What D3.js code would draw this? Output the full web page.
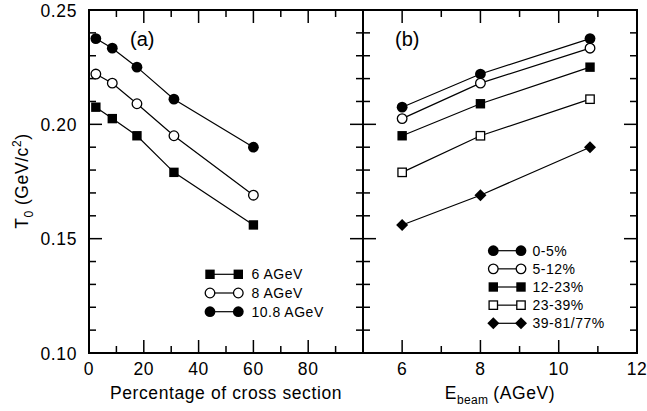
<!DOCTYPE html>
<html><head><meta charset="utf-8">
<script src="https://cdn.jsdelivr.net/npm/d3@7"></script>
<style>
html,body{margin:0;padding:0;background:#fff;}
svg text{font-family:"Liberation Sans",Arial,Helvetica,sans-serif;fill:#000;}
</style></head>
<body><svg id="c" width="647" height="411"></svg>
<script>
// ---- data ----
const centrality = [2.5, 8.5, 17.5, 31, 60];             // % of cross section (bin centres)
const centralityLabels = ["0-5%", "5-12%", "12-23%", "23-39%", "39-81/77%"];
const beamEnergies = [6, 8, 10.8];                       // AGeV
const energyLabels = ["6 AGeV", "8 AGeV", "10.8 AGeV"];
const t0_6AGeV   = [0.2075, 0.2025, 0.195, 0.179, 0.156];
const t0_8AGeV   = [0.222, 0.218, 0.209, 0.195, 0.169];
const t0_108AGeV = [0.2375, 0.2333, 0.225, 0.211, 0.190];
const yMajorTicks = [0.10, 0.15, 0.20, 0.25];
const xTicksA = [0, 20, 40, 60, 80];
const xTicksB = [6, 8, 10, 12];

(function () {
const svg = d3.select("#c");
const yTop = 10, yBot = 353;
const xa = d3.scaleLinear().domain([0, 100]).range([89, 363]);
const xb = d3.scaleLinear().domain([5, 12]).range([363, 637]);
const y = d3.scaleLinear().domain([0.10, 0.25]).range([yBot, yTop]);

const fs = 17.5, ls = 0.6;
const g = svg.append("g");

function line(x1, y1, x2, y2, w) {
  g.append("line").attr("x1", x1).attr("y1", y1).attr("x2", x2).attr("y2", y2)
    .attr("stroke", "#000").attr("stroke-width", w || 1.5);
}
// ---- ticks ----
const yMinor = d3.range(10, 26).map(d => d / 100);
yMinor.forEach(v => {
  const major = yMajorTicks.some(m => Math.abs(m - v) < 1e-9);
  const L = major ? 13 : 7;
  const yy = y(v);
  line(xa.range()[0], yy, xa.range()[0] + L, yy);
  line(363 - L, yy, 363 + L, yy);
  line(637 - L, yy, 637, yy);
});
d3.range(10, 100, 10).forEach(v => {
  const L = (v % 20 === 0) ? 13 : 7;
  line(xa(v), yBot, xa(v), yBot - L);
  line(xa(v), yTop, xa(v), yTop + L);
});
d3.range(6, 12, 1).forEach(v => {
  const L = (v % 2 === 0) ? 13 : 7;
  line(xb(v), yBot, xb(v), yBot - L);
  line(xb(v), yTop, xb(v), yTop + L);
});

// ---- frame ----
g.append("rect").attr("x", 89).attr("y", yTop).attr("width", 637 - 89).attr("height", yBot - yTop)
  .attr("fill", "none").attr("stroke", "#000").attr("stroke-width", 2);
line(363, yTop, 363, yBot, 2);

// ---- tick labels ----
yMajorTicks.forEach(v => {
  g.append("text").attr("x", 77).attr("y", y(v) + 6.5).attr("text-anchor", "end")
    .attr("font-size", fs).attr("letter-spacing", ls).text(v.toFixed(2));
});
xTicksA.forEach(v => {
  g.append("text").attr("x", xa(v)).attr("y", 374.5).attr("text-anchor", "middle")
    .attr("font-size", fs).attr("letter-spacing", ls).text(v);
});
xTicksB.forEach(v => {
  g.append("text").attr("x", xb(v)).attr("y", 374.5).attr("text-anchor", "middle")
    .attr("font-size", fs).attr("letter-spacing", ls).text(v);
});

// ---- axis titles ----
g.append("text").attr("x", 226).attr("y", 398.5).attr("text-anchor", "middle")
  .attr("font-size", fs).attr("letter-spacing", ls).text("Percentage of cross section");
const eb = g.append("text").attr("x", 500).attr("y", 398.5).attr("text-anchor", "middle")
  .attr("font-size", fs).attr("letter-spacing", ls);
eb.append("tspan").text("E");
eb.append("tspan").attr("font-size", 12).attr("dy", 5).attr("letter-spacing", 0.3).text("beam");
eb.append("tspan").attr("dy", -5).attr("dx", 5).text("(AGeV)");

const yt = g.append("text").attr("transform", "translate(28,181) rotate(-90)")
  .attr("text-anchor", "middle").attr("font-size", fs).attr("letter-spacing", ls);
yt.append("tspan").text("T");
yt.append("tspan").attr("font-size", 12).attr("dy", 5).text("0");
yt.append("tspan").attr("dy", -5).attr("dx", 5).text("(GeV/c");
yt.append("tspan").attr("font-size", 12).attr("dy", -7).text("2");
yt.append("tspan").attr("dy", 7).text(")");

g.append("text").attr("x", 130).attr("y", 46).attr("font-size", 20).text("(a)");
g.append("text").attr("x", 395).attr("y", 46).attr("font-size", 20).text("(b)");

// ---- markers ----
function marker(sel, type, cx, cy) {
  if (type === "fcircle") sel.append("circle").attr("cx", cx).attr("cy", cy).attr("r", 5.4).attr("fill", "#000");
  else if (type === "ocircle") sel.append("circle").attr("cx", cx).attr("cy", cy).attr("r", 4.8)
    .attr("fill", "#fff").attr("stroke", "#000").attr("stroke-width", 1.3);
  else if (type === "fsquare") sel.append("rect").attr("x", cx - 4.7).attr("y", cy - 4.7).attr("width", 9.4).attr("height", 9.4).attr("fill", "#000");
  else if (type === "osquare") sel.append("rect").attr("x", cx - 4.2).attr("y", cy - 4.2).attr("width", 8.4).attr("height", 8.4)
    .attr("fill", "#fff").attr("stroke", "#000").attr("stroke-width", 1.3);
  else if (type === "diamond") sel.append("path").attr("d", `M${cx},${cy - 6}L${cx + 6},${cy}L${cx},${cy + 6}L${cx - 6},${cy}Z`).attr("fill", "#000");
}
const pathLine = (xs, ys, xsc) => d3.line().x((d, i) => xsc(xs[i])).y(d => y(d))(ys);

// panel (a)
const seriesA = [t0_6AGeV, t0_8AGeV, t0_108AGeV];
const typesA = ["fsquare", "ocircle", "fcircle"];
seriesA.forEach((s, k) => {
  g.append("path").attr("d", pathLine(centrality, s, xa)).attr("fill", "none").attr("stroke", "#000").attr("stroke-width", 1.2);
  s.forEach((v, i) => marker(g, typesA[k], xa(centrality[i]), y(v)));
});
// panel (b)
const typesB = ["fcircle", "ocircle", "fsquare", "osquare", "diamond"];
centralityLabels.forEach((lab, c) => {
  const s = seriesA.map(arr => arr[c]);
  g.append("path").attr("d", pathLine(beamEnergies, s, xb)).attr("fill", "none").attr("stroke", "#000").attr("stroke-width", 1.2);
  s.forEach((v, i) => marker(g, typesB[c], xb(beamEnergies[i]), y(v)));
});

// ---- legends ----
function legend(x1, x2, tx, y0, dy, labels, types) {
  labels.forEach((lab, i) => {
    const yy = y0 + i * dy;
    line(x1, yy, x2, yy, 1.2);
    marker(g, types[i], x1, yy);
    marker(g, types[i], x2, yy);
    g.append("text").attr("x", tx).attr("y", yy + 5).attr("font-size", 14).attr("letter-spacing", 0.5).text(lab);
  });
}
legend(210, 238.3, 251.5, 274.3, 18.7, energyLabels, typesA);
legend(493.3, 521, 532.5, 250.7, 18.15, centralityLabels, typesB);
})();
</script></body></html>
